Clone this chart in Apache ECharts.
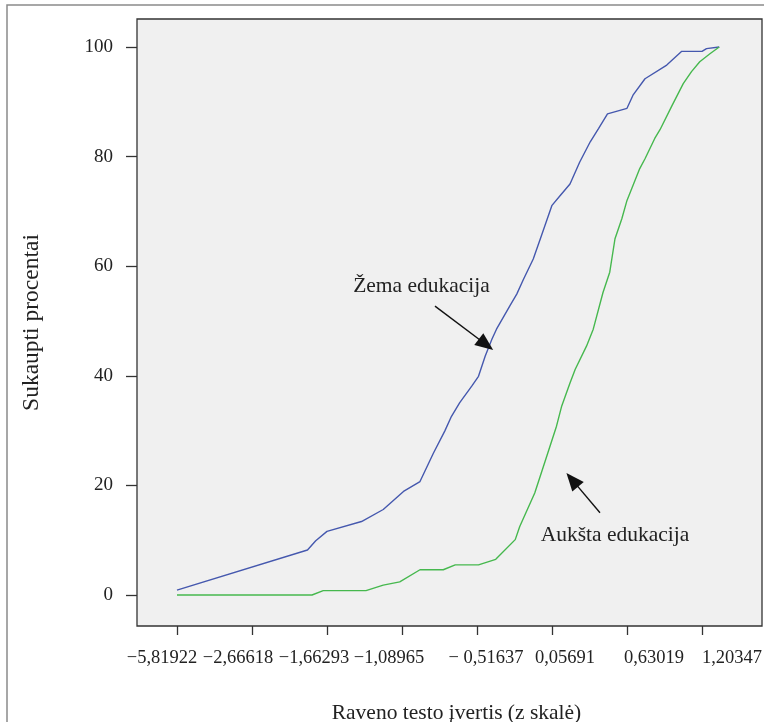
<!DOCTYPE html>
<html>
<head>
<meta charset="utf-8">
<script src="https://cdn.jsdelivr.net/npm/echarts@6/dist/echarts.min.js"></script>
<style>
  html, body { margin: 0; padding: 0; background: #fff; }
  #chart { width: 764px; height: 722px; }
</style>
</head>
<body>
<div id="chart"></div>
<script>
// x: index of the tick label (labels are evenly spaced), y: cumulative percent
var xTickLabels = ['\u22125,81922', '\u22122,66618', '\u22121,66293', '\u22121,08965',
  '\u2212 0,51637', '0,05691', '0,63019', '1,20347'];
// label shift from its tick, px (the labels are typeset, not centred)
var xLabelShift = [-15, -14, -13, -13, 9, 13, 27, 30];
var xTicks = [0, 1, 2, 3, 4, 5, 6, 7];
var yTicks = [0, 20, 40, 60, 80, 100];

var zemaData = [
  [0, 0.9], [1.74, 8.2], [1.85, 9.9], [2.0, 11.6], [2.46, 13.4], [2.75, 15.6],
  [3.02, 18.9], [3.24, 20.7], [3.42, 25.9], [3.57, 29.9], [3.66, 32.6],
  [3.77, 35.1], [3.93, 38.1], [4.02, 39.9], [4.11, 43.6], [4.2, 46.7],
  [4.26, 48.5], [4.44, 52.8], [4.53, 54.9], [4.62, 57.6], [4.75, 61.3],
  [4.86, 65.6], [5.0, 71.1], [5.11, 72.9], [5.24, 75.0], [5.37, 79.0],
  [5.51, 82.7], [5.62, 85.1], [5.74, 87.8], [6.0, 88.8], [6.08, 91.2],
  [6.24, 94.2], [6.53, 96.7], [6.73, 99.2], [7.0, 99.2], [7.06, 99.7], [7.23, 100]
];
var aukstaData = [
  [0, 0], [1.8, 0], [1.95, 0.8], [2.52, 0.8], [2.75, 1.8], [2.97, 2.4],
  [3.24, 4.6], [3.55, 4.6], [3.71, 5.5], [4.02, 5.5], [4.25, 6.5], [4.51, 10.1],
  [4.57, 12.5], [4.77, 18.6], [4.93, 25.3], [5.06, 30.8], [5.13, 34.5],
  [5.24, 38.7], [5.31, 41.2], [5.46, 45.4], [5.55, 48.5], [5.68, 55.2],
  [5.77, 58.9], [5.84, 65.0], [5.93, 68.6], [6.0, 72.0], [6.17, 77.8],
  [6.24, 79.6], [6.37, 83.3], [6.44, 84.9], [6.6, 89.3], [6.75, 93.3],
  [6.86, 95.5], [6.97, 97.3], [7.11, 98.8], [7.23, 100]
];

// annotations: text position and arrow (tail -> head centre) in data units
var zemaLabel = { text: '\u017Dema edukacija', at: [3.26, 56.4] };
var zemaArrow = [[3.44, 52.7], [4.12, 45.7]];
var aukstaLabel = { text: 'Auk\u0161ta edukacija', at: [5.84, 10.8] };
var aukstaArrow = [[5.64, 15.0], [5.27, 21.0]];

var serif = '"Liberation Serif", "DejaVu Serif", serif';

var chart = echarts.init(document.getElementById('chart'));

var rich = {};
xTickLabels.forEach(function (t, i) {
  var d = xLabelShift[i];
  rich['p' + i] = {
    fontFamily: serif, fontSize: 18.5, color: '#222',
    padding: d < 0 ? [0, -2 * d, 0, 0] : [0, 0, 0, 2 * d]
  };
});

function arrowLine(a) {
  return [{ coord: a[0] }, { coord: a[1] }];
}

var option = {
  backgroundColor: '#fff',
  animation: false,
  grid: {
    left: 137, top: 19, right: 2, bottom: 96,
    outerBoundsMode: 'none',
    containLabel: false,
    show: true,
    backgroundColor: '#f0f0f0',
    borderColor: '#333',
    borderWidth: 1.3
  },
  xAxis: {
    type: 'value',
    min: -0.533,
    max: 7.8,
    name: 'Raveno testo \u012Fvertis (z skal\u0117)',
    nameLocation: 'middle',
    nameGap: 76,
    nameTextStyle: { fontFamily: serif, fontSize: 21.5, color: '#222', padding: [0, 0, 0, 14] },
    axisLine: { show: false, onZero: false },
    splitLine: { show: false },
    axisTick: {
      show: true, length: 9, inside: false,
      customValues: xTicks,
      lineStyle: { color: '#333', width: 1.3 }
    },
    axisLabel: {
      margin: 23,
      customValues: xTicks,
      formatter: function (v) {
        var i = Math.round(v);
        return '{p' + i + '|' + xTickLabels[i] + '}';
      },
      rich: rich
    }
  },
  yAxis: {
    type: 'value',
    min: -5.66,
    max: 105.1,
    name: 'Sukaupti procentai',
    nameLocation: 'middle',
    nameGap: 93,
    nameRotate: 90,
    nameTextStyle: { fontFamily: serif, fontSize: 23.5, color: '#222' },
    axisLine: { show: false, onZero: false },
    splitLine: { show: false },
    axisTick: {
      show: true, length: 11, inside: false,
      customValues: yTicks,
      lineStyle: { color: '#333', width: 1.3 }
    },
    axisLabel: {
      margin: 24,
      customValues: yTicks,
      fontFamily: serif, fontSize: 19, color: '#222'
    }
  },
  series: [
    {
      name: '\u017Dema edukacija',
      type: 'line',
      data: zemaData,
      showSymbol: false,
      lineStyle: { color: '#4558ae', width: 1.4 },
      markLine: {
        silent: true,
        symbol: ['none', 'triangle'],
        symbolSize: [15, 18],
        label: { show: false },
        lineStyle: { color: '#111', width: 1.4, type: 'solid' },
        itemStyle: { color: '#111' },
        data: [arrowLine(zemaArrow), arrowLine(aukstaArrow)]
      }
    },
    {
      name: 'Auk\u0161ta edukacija',
      type: 'line',
      data: aukstaData,
      showSymbol: false,
      lineStyle: { color: '#46b84e', width: 1.4 }
    }
  ]
};

chart.setOption(option);

var labels = [zemaLabel, aukstaLabel];
var graphics = [{
  type: 'rect',
  shape: { x: 7, y: 5, width: 900, height: 900 },
  style: { fill: null, stroke: '#8a8a8a', lineWidth: 1.5 },
  silent: true, z: -1
}];
labels.forEach(function (l) {
  var p = chart.convertToPixel({ gridIndex: 0 }, l.at);
  graphics.push({
    type: 'text',
    x: p[0], y: p[1],
    style: {
      text: l.text,
      font: '21.5px ' + serif,
      fill: '#222',
      align: 'center',
      verticalAlign: 'middle'
    },
    z: 10
  });
});
chart.setOption({ graphic: graphics });
</script>
</body>
</html>
